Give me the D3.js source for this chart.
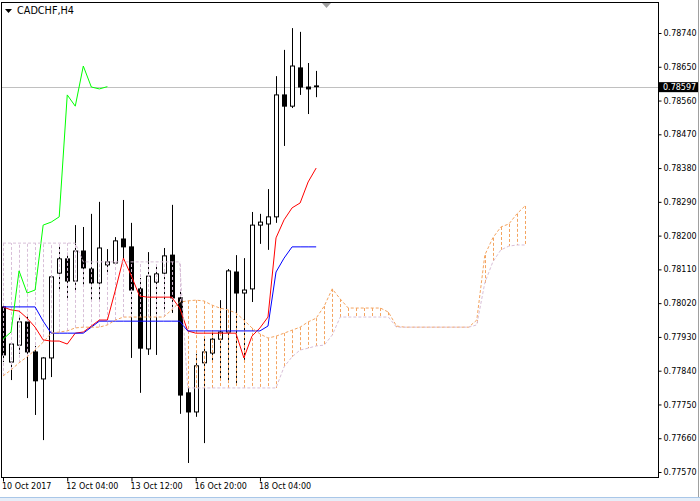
<!DOCTYPE html>
<html><head><meta charset="utf-8">
<script src="https://cdn.jsdelivr.net/npm/d3@7"></script>
<style>html,body{margin:0;padding:0;background:#fff;overflow:hidden}</style>
</head><body>
<svg id="c" width="700" height="501"></svg>
<script>
// ---------- DATA ----------
const symbolTitle = "CADCHF,H4";
const open = [0.78010,0.77863,0.77908,0.77970,0.77890,0.77818,0.77874,0.78100,0.78138,0.78079,
0.78159,0.78111,0.78074,0.78122,0.78127,0.78191,0.78170,0.78058,0.77898,0.78076,
0.78100,0.78148,0.78034,0.77781,0.77730,0.77861,0.77887,0.77924,0.77943,0.78103,
0.78047,0.78058,0.78228,0.78231,0.78250,0.78575,0.78545,0.78647,0.78596,0.78599];
const high = [0.78018,0.77914,0.77983,0.77988,0.77906,0.77876,0.78095,0.78170,0.78154,0.78228,
0.78223,0.78258,0.78290,0.78164,0.78196,0.78295,0.78234,0.78087,0.78156,0.78122,
0.78167,0.78282,0.78055,0.77797,0.77885,0.77930,0.77943,0.78028,0.78111,0.78148,
0.78140,0.78263,0.78258,0.78324,0.78625,0.78695,0.78753,0.78743,0.78660,0.78639];
const low = [0.77863,0.77815,0.77885,0.77767,0.77722,0.77655,0.77823,0.78055,0.78028,0.78055,
0.78068,0.78028,0.78028,0.78095,0.78122,0.78140,0.77874,0.77781,0.77882,0.77882,
0.77996,0.77994,0.77725,0.77594,0.77717,0.77647,0.77861,0.77815,0.77807,0.77807,
0.77869,0.78023,0.78178,0.78162,0.78234,0.78439,0.78540,0.78575,0.78524,0.78569];
const close = [0.77882,0.77911,0.77970,0.77890,0.77813,0.77874,0.78090,0.78138,0.78079,0.78159,
0.78114,0.78074,0.78167,0.78130,0.78186,0.78170,0.78055,0.77900,0.78092,0.78098,
0.78146,0.78034,0.77775,0.77730,0.77853,0.77890,0.77924,0.77943,0.78106,0.78047,
0.78055,0.78228,0.78236,0.78250,0.78575,0.78545,0.78652,0.78596,0.78591,0.78597];
const tenkan = [0.78010,0.78002,0.77999,0.77980,0.77956,0.77922,0.77919,0.77919,0.77911,0.77940,
0.77943,0.77959,0.77975,0.77975,0.78055,0.78140,0.78092,0.78039,0.78036,0.78036,
0.78036,0.78036,0.78007,0.77946,0.77940,0.77940,0.77940,0.77940,0.77940,0.77940,
0.77874,0.77932,0.77954,0.77983,0.78194,0.78242,0.78274,0.78287,0.78343,0.78380];
const kijun = [0.78010,0.78010,0.78010,0.78010,0.78010,0.77972,0.77940,0.77940,0.77940,0.77940,
0.77940,0.77956,0.77972,0.77972,0.77972,0.77972,0.77972,0.77972,0.77972,0.77972,
0.77972,0.77972,0.77972,0.77946,0.77946,0.77946,0.77946,0.77946,0.77946,0.77946,
0.77946,0.77946,0.77946,0.77959,0.78103,0.78140,0.78170,0.78170,0.78170,0.78170];
const chinkou = [0.77924,0.77943,0.78106,0.78047,0.78055,0.78228,0.78236,0.78250,0.78575,0.78545,
0.78652,0.78596,0.78591,0.78597];
const spanA = [0.77826,0.77842,0.77861,0.77877,0.77895,0.77916,0.77940,0.77943,0.77946,0.77954,
0.77956,0.77956,0.77956,0.77962,0.77975,0.77983,0.77983,0.77983,0.77983,0.77983,
0.77983,0.78002,0.78023,0.78026,0.78028,0.78026,0.78015,0.78007,0.78002,0.77994,
0.77975,0.77954,0.77938,0.77927,0.77932,0.77940,0.77948,0.77956,0.77970,0.77980,
0.78012,0.78058,0.78031,0.78007,0.78007,0.78007,0.78007,0.78007,0.77996,0.77959,
0.77956,0.77956,0.77956,0.77956,0.77956,0.77956,0.77956,0.77956,0.77956,0.77975,
0.78148,0.78194,0.78223,0.78231,0.78258,0.78279];
const spanB = [0.78180,0.78180,0.78180,0.78180,0.78180,0.78180,0.78180,0.78180,0.78180,0.78180,
0.78130,0.78130,0.78130,0.78130,0.78130,0.78130,0.78130,0.78130,0.78130,0.78130,
0.78130,0.78130,0.78130,0.77794,0.77794,0.77794,0.77794,0.77794,0.77794,0.77794,
0.77794,0.77794,0.77794,0.77794,0.77794,0.77850,0.77877,0.77895,0.77900,0.77906,
0.77908,0.77935,0.77983,0.77983,0.77983,0.77983,0.77983,0.77983,0.77983,0.77956,
0.77956,0.77956,0.77956,0.77956,0.77956,0.77956,0.77956,0.77956,0.77956,0.77962,
0.78074,0.78130,0.78162,0.78172,0.78175,0.78175];
const yTicks = [0.77570,0.77660,0.77750,0.77840,0.77930,0.78020,0.78110,0.78200,0.78290,0.78380,0.78470,0.78560,0.78650,0.78740];
const xTickBars = [0, 8, 16, 24, 32];
const xTickLabels = ["10 Oct 2017", "12 Oct 04:00", "13 Oct 12:00", "16 Oct 20:00", "18 Oct 04:00"];
const lastPrice = 0.78597;

// ---------- CHART ----------
const svg = d3.select('#c');
const L = 2, T = 3, R = 658, B = 477;
const x = d3.scaleLinear().domain([0, 65]).range([3, 3 + 65 * 8.03]);
const y = d3.scaleLinear().domain([0.77570, 0.78740]).range([472, 33]);
const px = i => Math.round(x(i)) + 0.5;
const font = "'DejaVu Sans', Verdana, sans-serif";
const SANDY = "#F4A460", THISTLE = "#D8BFD8";

svg.append('rect').attr('width', 700).attr('height', 501).attr('fill', '#fff');
svg.append('defs').append('clipPath').attr('id', 'clip')
  .append('rect').attr('x', L).attr('y', T).attr('width', R - L).attr('height', B - T);
const g = svg.append('g').attr('clip-path', 'url(#clip)');

// current price line
const yl = Math.round(y(lastPrice)) + 0.5;
g.append('line').attr('x1', L).attr('x2', R).attr('y1', yl).attr('y2', yl)
  .attr('stroke', '#c0c0c0').attr('stroke-width', 1);

// candles
const idx = d3.range(open.length);
const cg = g.append('g');
cg.selectAll('line.wick').data(idx).join('line').attr('class', 'wick')
  .attr('x1', i => px(i)).attr('x2', i => px(i))
  .attr('y1', i => y(high[i])).attr('y2', i => y(low[i]))
  .attr('stroke', '#000').attr('stroke-width', 1);
cg.selectAll('rect.body').data(idx).join('rect').attr('class', 'body')
  .each(function(i) {
    const up = close[i] >= open[i];
    const top = y(Math.max(open[i], close[i])), bot = y(Math.min(open[i], close[i]));
    const c = Math.round(x(i));
    const s = d3.select(this);
    if (up) {
      s.attr('x', c - 1.5).attr('width', 4).attr('y', top).attr('height', Math.max(bot - top, 1))
       .attr('fill', '#fff').attr('stroke', '#000').attr('stroke-width', 1);
    } else {
      s.attr('x', c - 2).attr('width', 5).attr('y', top - 0.5).attr('height', Math.max(bot - top + 1, 1.5))
       .attr('fill', '#000');
    }
  });

// kumo histogram (dotted verticals)
const cloudIdx = d3.range(spanA.length);
g.append('g').selectAll('line').data(cloudIdx).join('line')
  .attr('x1', i => px(i)).attr('x2', i => px(i))
  .attr('y1', i => y(spanA[i])).attr('y2', i => y(spanB[i]))
  .attr('stroke', i => spanA[i] >= spanB[i] ? SANDY : THISTLE)
  .attr('stroke-width', 1).attr('stroke-dasharray', '3,2');

// lines
const line = arr => d3.line().x((d, i) => x(i)).y(d => y(d))(arr);
g.append('path').attr('d', line(tenkan)).attr('fill', 'none').attr('stroke', '#ff0000').attr('stroke-width', 1);
g.append('path').attr('d', line(kijun)).attr('fill', 'none').attr('stroke', '#0000ff').attr('stroke-width', 1);
g.append('path').attr('d', line(chinkou)).attr('fill', 'none').attr('stroke', '#00ff00').attr('stroke-width', 1);
g.append('path').attr('d', line(spanA)).attr('fill', 'none').attr('stroke', SANDY).attr('stroke-width', 1).attr('stroke-dasharray', '3,2');
g.append('path').attr('d', line(spanB)).attr('fill', 'none').attr('stroke', THISTLE).attr('stroke-width', 1).attr('stroke-dasharray', '3,2');

// frame
svg.append('rect').attr('x', L - 0.5).attr('y', T - 0.5).attr('width', R - L + 1).attr('height', B - T + 1)
  .attr('fill', 'none').attr('stroke', '#000').attr('stroke-width', 1);

// right axis
const ya = svg.append('g').attr('transform', `translate(${R + 0.5},0)`)
  .call(d3.axisRight(y).tickValues(yTicks).tickFormat(d => d.toFixed(5)).tickSizeInner(3).tickSizeOuter(0).tickPadding(2));
ya.select('.domain').remove();
ya.selectAll('text').attr('font-family', font).attr('font-size', '8px').attr('fill', '#000');
ya.selectAll('line').attr('stroke', '#000');

// bottom axis
const xa = svg.append('g').attr('transform', `translate(0,${B + 0.5})`)
  .call(d3.axisBottom(x).tickValues(xTickBars).tickFormat((d, i) => xTickLabels[i]).tickSizeInner(4).tickSizeOuter(0).tickPadding(2));
xa.select('.domain').remove();
xa.selectAll('text').attr('font-family', font).attr('font-size', '8px').attr('fill', '#000')
  .attr('text-anchor', 'start').attr('dx', '-1.5');
xa.selectAll('line').attr('stroke', '#000');

// last price label
svg.append('rect').attr('x', R + 1).attr('y', y(lastPrice) - 4.5).attr('width', 39).attr('height', 10).attr('fill', '#000');
svg.append('text').attr('x', R + 5).attr('y', y(lastPrice) + 3).text(lastPrice.toFixed(5))
  .attr('font-family', font).attr('font-size', '8px').attr('fill', '#fff');

// title
svg.append('path').attr('d', 'M5,9 L12,9 L8.5,13 Z').attr('fill', '#000');
svg.append('text').attr('x', 17).attr('y', 14).text(symbolTitle)
  .attr('font-family', font).attr('font-size', '9.7px').attr('fill', '#000');

// chart shift marker
svg.append('path').attr('d', 'M322,3 L331,3 L326.5,8 Z').attr('fill', '#a0a0a0');

// window edges
svg.append('line').attr('x1', 698.5).attr('x2', 698.5).attr('y1', 0).attr('y2', 497).attr('stroke', '#a0a0a0');
svg.append('rect').attr('x', 0).attr('y', 497).attr('width', 700).attr('height', 4).attr('fill', '#e6eef8');
svg.append('line').attr('x1', 0).attr('x2', 700).attr('y1', 497.5).attr('y2', 497.5).attr('stroke', '#a9c7e8');
</script>
</body></html>
